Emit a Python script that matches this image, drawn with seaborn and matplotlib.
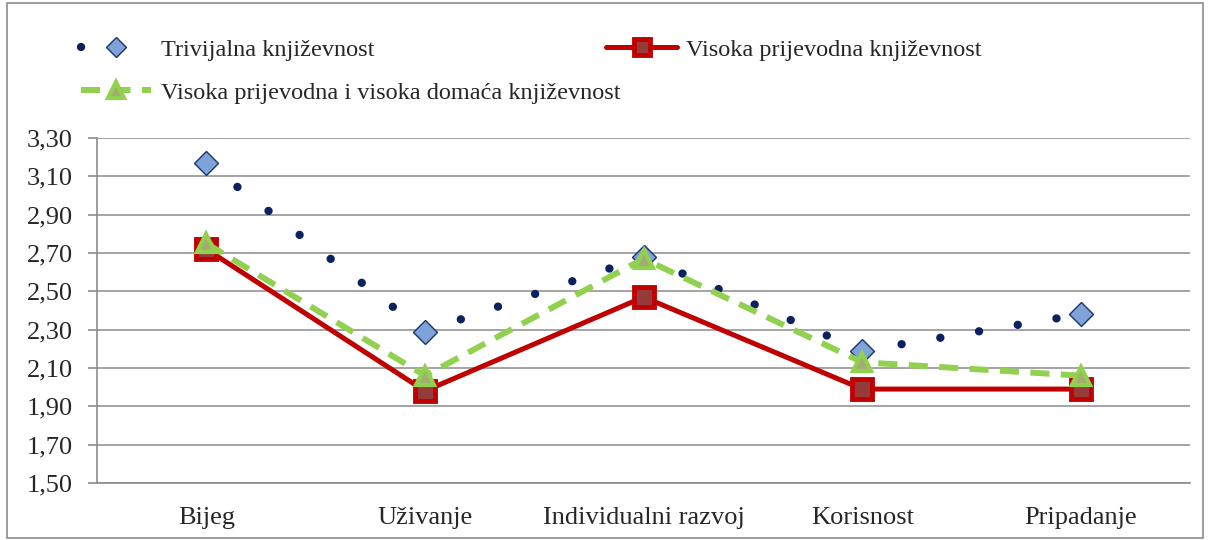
import matplotlib
matplotlib.use("Agg")
import pandas as pd
import seaborn as sns
import matplotlib.pyplot as plt
from matplotlib.patches import Rectangle
from matplotlib.ticker import FixedLocator, FuncFormatter

categories = ["Bijeg", "Uživanje", "Individualni razvoj", "Korisnost", "Pripadanje"]
trivijalna = [3.17, 2.29, 2.68, 2.19, 2.38]
visoka_prijevodna = [2.72, 1.98, 2.47, 1.99, 1.99]
visoka_domaca = [2.75, 2.06, 2.67, 2.13, 2.06]
y_ticks = [1.50, 1.70, 1.90, 2.10, 2.30, 2.50, 2.70, 2.90, 3.10, 3.30]

labels = ["Trivijalna književnost", "Visoka prijevodna književnost",
          "Visoka prijevodna i visoka domaća književnost"]

sns.set_theme(style="white")
plt.rcParams["font.family"] = ["Liberation Serif", "DejaVu Serif"]
plt.rcParams["font.size"] = 18

fig = plt.figure(figsize=(12.08, 5.4), dpi=100)
ax = fig.add_axes([0.0803, 0.1056, 0.905, 0.6388])

df = pd.DataFrame({"kat": categories, "t": trivijalna,
                   "p": visoka_prijevodna, "d": visoka_domaca})

# trivijalna - dotted with diamonds
sns.lineplot(data=df, x="kat", y="t", ax=ax, sort=False, label=labels[0],
             color="#0b2160", linewidth=6.0, linestyle=(0, (0.01, 4.7)),
             dash_capstyle="round", marker="D", markersize=12,
             markerfacecolor="#7fa2d8", markeredgecolor="#1a3470",
             markeredgewidth=1.0, zorder=3)
# visoka prijevodna - solid red with squares
sns.lineplot(data=df, x="kat", y="p", ax=ax, sort=False, label=labels[1],
             color="#c00000", linewidth=3.6, marker="s", markersize=14,
             markerfacecolor="#973a3a", markeredgecolor="#c00000",
             markeredgewidth=3.5, zorder=4)
# visoka prijevodna i domaca - dashed green with triangles
sns.lineplot(data=df, x="kat", y="d", ax=ax, sort=False, label=labels[2],
             color="#92d050", linewidth=4.3, linestyle=(0, (3.2, 1.9)),
             marker="^", markersize=13, markerfacecolor="#a3ad72",
             markeredgecolor="#92d050", markeredgewidth=3.0, zorder=5)

ax.set_xlim(-0.5, 4.5)
ax.set_ylim(1.50, 3.30)
ax.set_yticks(y_ticks)
ax.yaxis.set_major_formatter(FuncFormatter(lambda v, p: f"{v:.2f}".replace(".", ",")))
ax.xaxis.set_minor_locator(FixedLocator([-0.5, 0.5, 1.5, 2.5, 3.5, 4.5]))
ax.tick_params(axis="x", which="major", length=0, pad=17, labelsize=19)
ax.tick_params(axis="x", which="minor", length=7, width=1.2, color="#8c8c8c", direction="out")
ax.tick_params(axis="y", length=6.5, width=1.2, color="#8c8c8c", pad=11, labelsize=19, left=True)
ax.set_xlabel("")
ax.set_ylabel("")
ax.grid(axis="y", color="#8c8c8c", linewidth=1.1)
ax.grid(axis="x", visible=False)
for s in ["top", "right"]:
    ax.spines[s].set_visible(False)
for s in ["left", "bottom"]:
    ax.spines[s].set_color("#8c8c8c")
    ax.spines[s].set_linewidth(1.2)

handles, labs = ax.get_legend_handles_labels()
ax.get_legend().remove()
order = [0, 2, 1]
fig.legend([handles[i] for i in order], [labs[i] for i in order],
           loc="upper left", bbox_to_anchor=(0.057, 0.951), ncol=2,
           frameon=False, fontsize=17.5, handlelength=2.9, handletextpad=0.4,
           columnspacing=-0.6, labelspacing=0.87, borderpad=0, markerscale=0.85)

fig.patches.append(Rectangle((0.006, 0.004), 0.99, 0.99, transform=fig.transFigure,
                             fill=False, edgecolor="#8c8c8c", linewidth=1.2))

fig.savefig("out.png", dpi=100)
